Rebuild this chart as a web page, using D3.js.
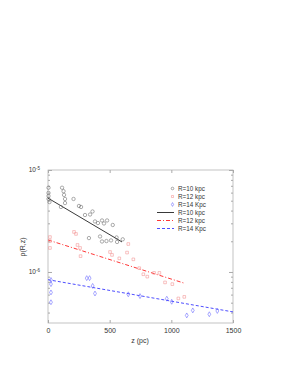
<!DOCTYPE html>
<html>
<head>
<meta charset="utf-8">
<script src="https://cdn.jsdelivr.net/npm/d3@7"></script>
<style>
  body { margin: 0; background: #fff; }
  svg text { font-family: "Liberation Sans", Arial, sans-serif; fill: #333; }
</style>
</head>
<body>
<div id="chart"></div>
<script>
// data: z in pc, rho in arbitrary density units
const r10Z = [4, 4, 4, 4, 12, 114, 126, 130, 138, 138, 105, 207, 251, 268, 361, 341, 300, 381, 405, 438, 479, 525, 454, 332, 422, 438, 474, 511, 556, 606, 560];
const r10Rho = [6.7e-6, 5.96e-6, 5.56e-6, 5.2e-6, 4.85e-6, 6.7e-6, 6.2e-6, 5.7e-6, 5.2e-6, 4.74e-6, 4.34e-6, 5.2e-6, 4.44e-6, 4.34e-6, 3.92e-6, 3.66e-6, 3.62e-6, 3.13e-6, 3.02e-6, 3.2e-6, 3.2e-6, 2.89e-6, 2.99e-6, 2.15e-6, 2.23e-6, 1.99e-6, 2.01e-6, 2.04e-6, 2.18e-6, 2.09e-6, 1.97e-6];

const r12Z = [16, 16, 16, 211, 227, 239, 260, 264, 503, 519, 651, 641, 578, 692, 740, 773, 805, 860, 903, 949, 1008, 1057, 1105];
const r12Rho = [2.2e-6, 2.01e-6, 1.72e-6, 2.47e-6, 2.36e-6, 1.84e-6, 1.72e-6, 1.43e-6, 1.57e-6, 1.47e-6, 1.88e-6, 1.55e-6, 1.36e-6, 1.33e-6, 1.09e-6, 9.5e-7, 9.0e-7, 9.8e-7, 9.8e-7, 7.9e-7, 7.6e-7, 5.5e-7, 5.7e-7];

const r14Z = [24, 24, 24, 24, 314, 337, 362, 381, 651, 746, 963, 1003, 1125, 1174, 1308, 1373];
const r14Rho = [8.35e-7, 7.6e-7, 6.3e-7, 5.05e-7, 8.7e-7, 8.7e-7, 7.3e-7, 6.15e-7, 6.04e-7, 5.8e-7, 5.47e-7, 5.1e-7, 3.75e-7, 4.2e-7, 3.85e-7, 4.15e-7];

// exponential fits (straight on log axis) - end points
const fit10Z = [0, 600];
const fit10Rho = [5.3e-6, 1.97e-6];
const fit12Z = [0, 1100];
const fit12Rho = [2.06e-6, 7.8e-7];
const fit14Z = [0, 1500];
const fit14Rho = [8.4e-7, 4.06e-7];

const xTicks = [0, 500, 1000, 1500];
const yMajor = [1e-5, 1e-6];
const yMinor = [2e-6, 3e-6, 4e-6, 5e-6, 6e-6, 7e-6, 8e-6, 9e-6, 4e-7, 5e-7, 6e-7, 7e-7, 8e-7, 9e-7];
const legendLabels = ["R=10 kpc", "R=12 kpc", "R=14 Kpc", "R=10 kpc", "R=12 kpc", "R=14 Kpc"];

const width = 282, height = 365;
const mLeft = 48, mRight = 233, mTop = 170, mBottom = 323;

const svg = d3.select("#chart").append("svg")
  .attr("width", width)
  .attr("height", height);

const x = d3.scaleLinear().domain([0, 1500]).range([mLeft, mRight]);
const y = d3.scaleLog().domain([3.16e-7, 1e-5]).range([mBottom, mTop]);

const frameColor = "#aaa";

// frame
svg.append("rect")
  .attr("x", mLeft).attr("y", mTop)
  .attr("width", mRight - mLeft).attr("height", mBottom - mTop)
  .attr("fill", "none").attr("stroke", frameColor).attr("stroke-width", 0.7);

// bottom axis with labels
const gx = svg.append("g")
  .attr("transform", "translate(0," + mBottom + ")")
  .call(d3.axisBottom(x).tickValues(xTicks).tickSize(-3).tickPadding(5).tickFormat(d3.format("d")));
gx.select(".domain").remove();
gx.selectAll("line").attr("stroke", frameColor);
gx.selectAll("text").attr("font-size", 7).attr("fill", "#333");

// top mirror ticks
const gxt = svg.append("g")
  .attr("transform", "translate(0," + mTop + ")")
  .call(d3.axisTop(x).tickValues(xTicks).tickSize(-3).tickFormat(""));
gxt.select(".domain").remove();
gxt.selectAll("line").attr("stroke", frameColor);

// left axis majors with labels
const gy = svg.append("g")
  .attr("transform", "translate(" + mLeft + ",0)")
  .call(d3.axisLeft(y).tickValues(yMajor).tickSize(-4).tickPadding(7).tickFormat(""));
gy.select(".domain").remove();
gy.selectAll("line").attr("stroke", frameColor);

gy.selectAll(".tick").each(function(d) {
  const t = d3.select(this).append("text")
    .attr("x", -8).attr("dy", "0.3em")
    .attr("text-anchor", "end")
    .attr("font-size", 6.5)
    .attr("fill", "#333");
  t.append("tspan").text("10");
  t.append("tspan").attr("dy", "-0.5em").attr("font-size", 4.5).text(Math.round(Math.log10(d)));
});

// minor ticks left and right
[[mLeft, d3.axisLeft], [mRight, d3.axisRight]].forEach(([pos, ax]) => {
  const g = svg.append("g")
    .attr("transform", "translate(" + pos + ",0)")
    .call(ax(y).tickValues(yMinor).tickSize(-2).tickFormat(""));
  g.select(".domain").remove();
  g.selectAll("line").attr("stroke", frameColor);
});
const gyr = svg.append("g")
  .attr("transform", "translate(" + mRight + ",0)")
  .call(d3.axisRight(y).tickValues(yMajor).tickSize(-4).tickFormat(""));
gyr.select(".domain").remove();
gyr.selectAll("line").attr("stroke", frameColor);

// axis titles
svg.append("text")
  .attr("x", 140).attr("y", 343)
  .attr("text-anchor", "middle")
  .attr("font-size", 7)
  .text("z (pc)");

svg.append("text")
  .attr("transform", "translate(25,247) rotate(-90)")
  .attr("text-anchor", "middle")
  .attr("font-size", 7)
  .text("\u03c1(R,z)");

// fit lines
const line = d3.line().x(d => x(d[0])).y(d => y(d[1]));
const fits = [
  { z: fit10Z, rho: fit10Rho, color: "#222", dash: null },
  { z: fit12Z, rho: fit12Rho, color: "#ff2020", dash: "4,2,1,2" },
  { z: fit14Z, rho: fit14Rho, color: "#3a3aff", dash: "3,2" }
];
fits.forEach(f => {
  svg.append("path")
    .datum(d3.zip(f.z, f.rho))
    .attr("d", line)
    .attr("fill", "none")
    .attr("stroke", f.color)
    .attr("stroke-width", 0.9)
    .attr("stroke-dasharray", f.dash);
});

// scatter series
const series = [
  { z: r10Z, rho: r10Rho, type: d3.symbolCircle, size: 9, color: "#666" },
  { z: r12Z, rho: r12Rho, type: d3.symbolSquare, size: 7, color: "#f39090" },
  { z: r14Z, rho: r14Rho, type: d3.symbolDiamond, size: 7, color: "#6060ff" }
];
series.forEach(s => {
  svg.append("g").selectAll("path")
    .data(d3.zip(s.z, s.rho))
    .join("path")
    .attr("transform", d => "translate(" + x(d[0]) + "," + y(d[1]) + ")")
    .attr("d", d3.symbol().type(s.type).size(s.size))
    .attr("fill", "none")
    .attr("stroke", s.color)
    .attr("stroke-width", 0.55);
});

// legend
const legend = svg.append("g");
const rowY = i => 188.5 + i * 8;
series.forEach((s, i) => {
  legend.append("path")
    .attr("transform", "translate(172.5," + rowY(i) + ")")
    .attr("d", d3.symbol().type(s.type).size(s.size * 0.6))
    .attr("fill", "none")
    .attr("stroke", s.color)
    .attr("stroke-width", 0.55);
});
fits.forEach((f, i) => {
  legend.append("line")
    .attr("x1", 157).attr("x2", 174)
    .attr("y1", rowY(i + 3)).attr("y2", rowY(i + 3))
    .attr("stroke", f.color)
    .attr("stroke-width", 0.9)
    .attr("stroke-dasharray", f.dash);
});
legendLabels.forEach((t, i) => {
  legend.append("text")
    .attr("x", 178).attr("y", rowY(i))
    .attr("dy", "0.35em")
    .attr("font-size", 6.3)
    .text(t);
});
</script>
</body>
</html>
